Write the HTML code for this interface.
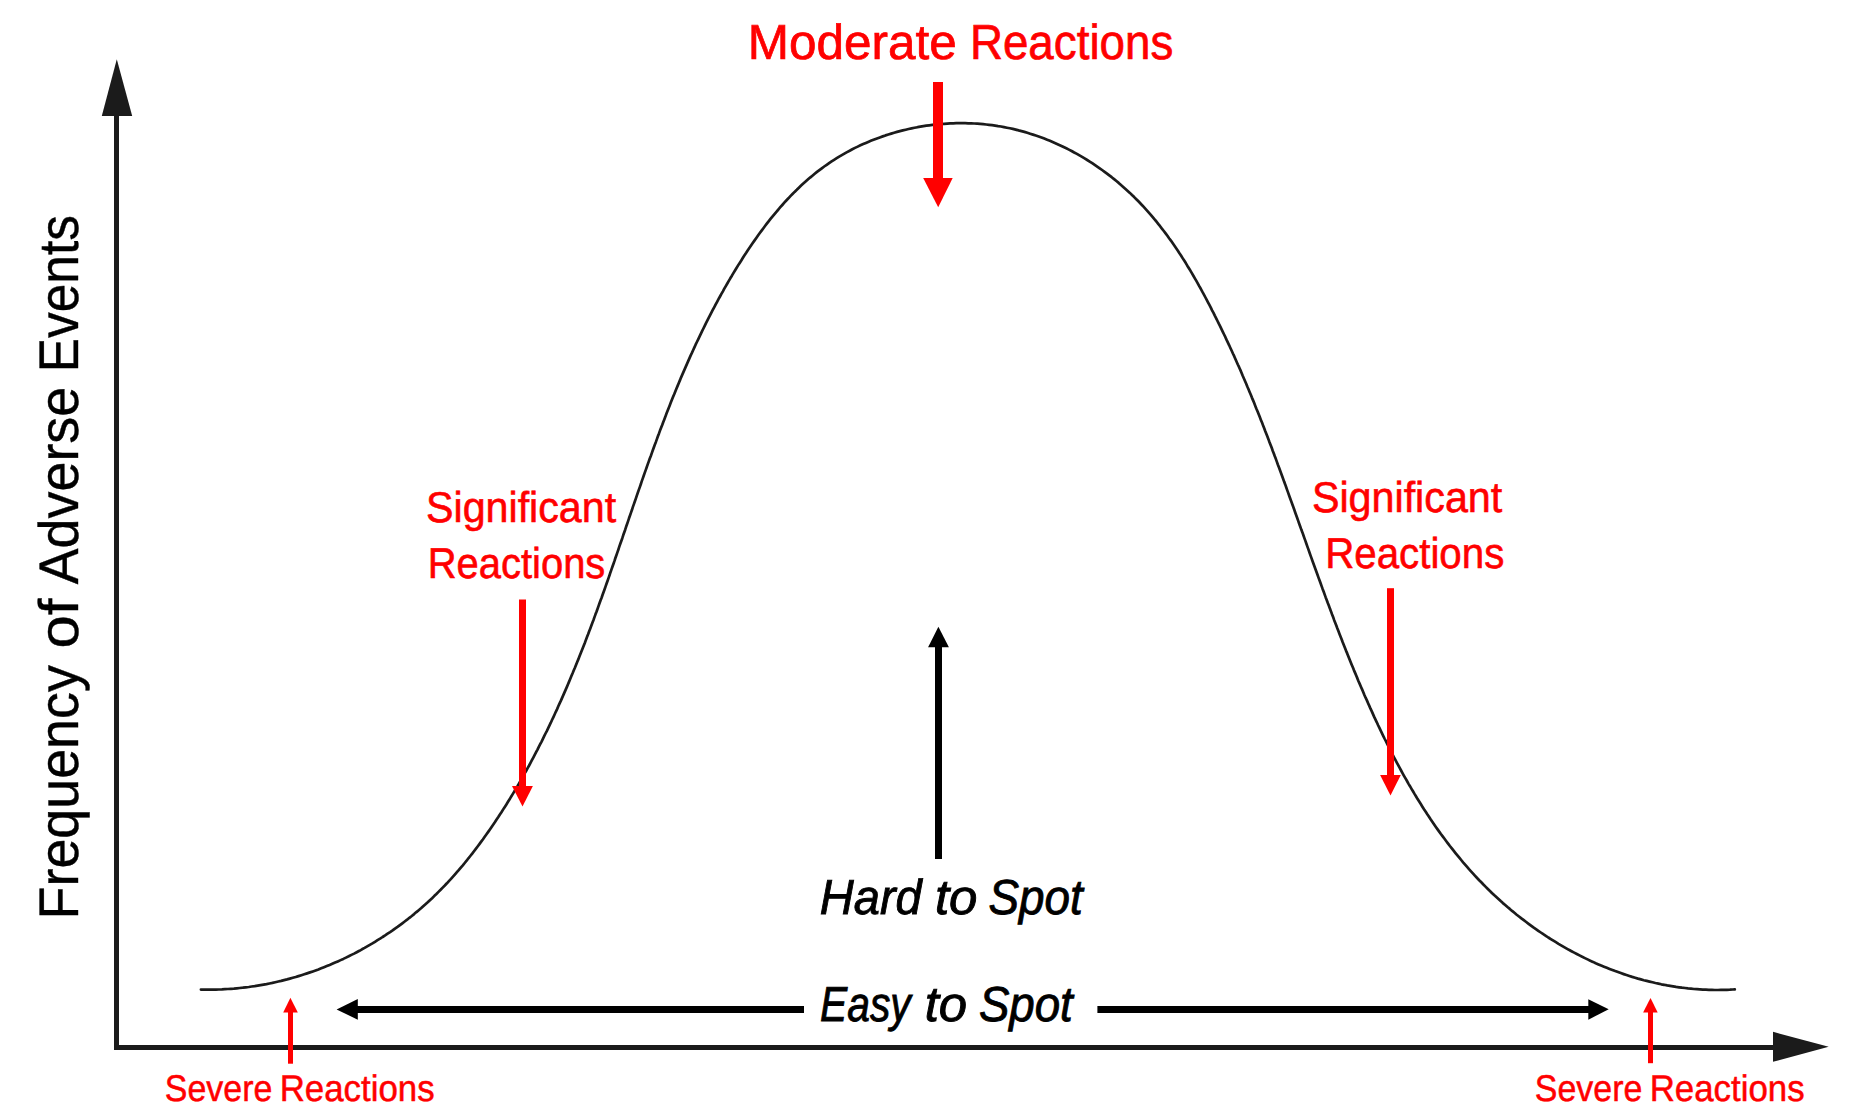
<!DOCTYPE html>
<html><head><meta charset="utf-8"><style>
html,body{margin:0;padding:0;background:#fff;}
body{width:1874px;height:1118px;overflow:hidden;}
svg{display:block;}
text{font-family:"Liberation Sans",sans-serif;text-rendering:geometricPrecision;}
</style></head><body>
<svg width="1874" height="1118" viewBox="0 0 1874 1118">
<rect width="1874" height="1118" fill="#fff"/>
<rect x="114" y="114" width="5" height="936" fill="#1b1b1b"/>
<polygon points="101.8,116 132.2,116 116.8,59.3" fill="#1b1b1b"/>
<rect x="114" y="1045" width="1662" height="5" fill="#1b1b1b"/>
<polygon points="1773,1031.8 1773,1061.8 1828.7,1046.8" fill="#1b1b1b"/>
<path d="M200.9,989.6 L203.9,989.6 L206.9,989.7 L209.9,989.7 L212.9,989.6 L215.9,989.6 L218.9,989.5 L221.9,989.4 L224.9,989.2 L227.9,989.0 L230.9,988.8 L233.9,988.6 L236.8,988.3 L239.8,988.0 L242.8,987.7 L245.8,987.3 L248.8,987.0 L251.7,986.5 L254.7,986.1 L257.7,985.6 L260.6,985.1 L263.6,984.6 L266.5,984.1 L269.5,983.5 L272.4,982.9 L275.3,982.2 L278.3,981.5 L281.2,980.9 L284.1,980.1 L287.0,979.4 L289.9,978.6 L292.8,977.8 L295.7,977.0 L298.5,976.1 L301.4,975.2 L304.3,974.3 L307.1,973.4 L310.0,972.4 L312.8,971.4 L315.6,970.4 L318.4,969.4 L321.2,968.3 L324.0,967.2 L326.8,966.1 L329.6,965.0 L332.3,963.8 L335.1,962.6 L337.8,961.4 L340.6,960.1 L343.3,958.9 L346.0,957.6 L348.7,956.3 L351.4,954.9 L354.1,953.6 L356.7,952.2 L359.4,950.8 L362.0,949.3 L364.6,947.9 L367.2,946.4 L369.8,944.9 L372.4,943.4 L375.0,941.8 L377.5,940.2 L380.1,938.7 L382.6,937.0 L385.1,935.4 L387.6,933.7 L390.1,932.1 L392.6,930.4 L395.0,928.6 L397.5,926.9 L399.9,925.1 L402.3,923.3 L404.7,921.5 L407.1,919.7 L409.4,917.8 L411.8,916.0 L414.1,914.1 L416.4,912.1 L418.7,910.2 L421.0,908.3 L423.2,906.3 L425.5,904.3 L427.7,902.3 L429.9,900.2 L432.1,898.2 L434.2,896.1 L436.4,894.0 L438.5,891.9 L440.6,889.8 L442.7,887.6 L444.8,885.5 L446.9,883.3 L448.9,881.1 L451.0,878.9 L453.0,876.7 L455.0,874.4 L456.9,872.2 L458.9,869.9 L460.8,867.6 L462.8,865.3 L464.7,863.0 L466.6,860.7 L468.4,858.3 L470.3,856.0 L472.2,853.6 L474.0,851.2 L475.8,848.9 L477.6,846.5 L479.4,844.1 L481.2,841.6 L483.0,839.2 L484.7,836.8 L486.5,834.3 L488.2,831.9 L489.9,829.4 L491.6,826.9 L493.3,824.5 L495.0,822.0 L496.6,819.5 L498.3,817.0 L499.9,814.5 L501.6,812.0 L503.2,809.4 L504.8,806.9 L506.4,804.4 L508.0,801.8 L509.6,799.3 L511.1,796.7 L512.7,794.1 L514.2,791.6 L515.7,789.0 L517.3,786.4 L518.8,783.8 L520.3,781.2 L521.8,778.6 L523.2,776.0 L524.7,773.4 L526.2,770.8 L527.6,768.1 L529.1,765.5 L530.5,762.9 L531.9,760.2 L533.3,757.6 L534.7,754.9 L536.1,752.2 L537.5,749.6 L538.8,746.9 L540.2,744.2 L541.6,741.6 L542.9,738.9 L544.2,736.2 L545.5,733.5 L546.9,730.8 L548.2,728.1 L549.5,725.4 L550.8,722.7 L552.0,720.0 L553.3,717.3 L554.6,714.5 L555.8,711.8 L557.1,709.1 L558.3,706.3 L559.5,703.6 L560.8,700.9 L562.0,698.1 L563.2,695.4 L564.4,692.6 L565.6,689.9 L566.8,687.1 L567.9,684.4 L569.1,681.6 L570.3,678.8 L571.4,676.1 L572.6,673.3 L573.7,670.5 L574.9,667.8 L576.0,665.0 L577.1,662.2 L578.3,659.4 L579.4,656.6 L580.5,653.8 L581.6,651.1 L582.7,648.3 L583.8,645.5 L584.9,642.7 L585.9,639.9 L587.0,637.1 L588.1,634.3 L589.1,631.5 L590.2,628.7 L591.3,625.8 L592.3,623.0 L593.4,620.2 L594.4,617.4 L595.4,614.6 L596.5,611.8 L597.5,609.0 L598.5,606.1 L599.5,603.3 L600.5,600.5 L601.6,597.7 L602.6,594.8 L603.6,592.0 L604.6,589.2 L605.6,586.4 L606.6,583.5 L607.6,580.7 L608.6,577.9 L609.6,575.0 L610.5,572.2 L611.5,569.4 L612.5,566.5 L613.5,563.7 L614.5,560.9 L615.4,558.0 L616.4,555.2 L617.4,552.4 L618.4,549.5 L619.3,546.7 L620.3,543.8 L621.3,541.0 L622.3,538.2 L623.2,535.3 L624.2,532.5 L625.2,529.7 L626.1,526.8 L627.1,524.0 L628.1,521.1 L629.0,518.3 L630.0,515.5 L631.0,512.6 L632.0,509.8 L632.9,506.9 L633.9,504.1 L634.9,501.3 L635.9,498.4 L636.8,495.6 L637.8,492.8 L638.8,489.9 L639.8,487.1 L640.8,484.3 L641.7,481.4 L642.7,478.6 L643.7,475.8 L644.7,472.9 L645.7,470.1 L646.7,467.3 L647.7,464.4 L648.7,461.6 L649.7,458.8 L650.8,456.0 L651.8,453.1 L652.8,450.3 L653.8,447.5 L654.8,444.7 L655.9,441.9 L656.9,439.1 L657.9,436.2 L659.0,433.4 L660.0,430.6 L661.1,427.8 L662.2,425.0 L663.2,422.2 L664.3,419.4 L665.4,416.6 L666.4,413.8 L667.5,411.0 L668.6,408.2 L669.7,405.4 L670.8,402.6 L671.9,399.8 L673.0,397.1 L674.2,394.3 L675.3,391.5 L676.4,388.7 L677.6,385.9 L678.7,383.2 L679.9,380.4 L681.0,377.6 L682.2,374.9 L683.4,372.1 L684.6,369.4 L685.8,366.6 L687.0,363.9 L688.2,361.1 L689.4,358.4 L690.6,355.6 L691.9,352.9 L693.1,350.2 L694.4,347.4 L695.6,344.7 L696.9,342.0 L698.2,339.3 L699.5,336.6 L700.8,333.9 L702.1,331.2 L703.4,328.5 L704.7,325.8 L706.0,323.1 L707.4,320.4 L708.8,317.7 L710.1,315.1 L711.5,312.4 L712.9,309.7 L714.3,307.1 L715.7,304.4 L717.1,301.8 L718.5,299.2 L720.0,296.5 L721.4,293.9 L722.9,291.3 L724.3,288.7 L725.8,286.1 L727.3,283.5 L728.8,280.9 L730.3,278.3 L731.9,275.7 L733.4,273.1 L735.0,270.5 L736.5,268.0 L738.1,265.4 L739.7,262.9 L741.3,260.4 L742.9,257.8 L744.5,255.3 L746.2,252.8 L747.8,250.3 L749.5,247.8 L751.2,245.3 L752.9,242.8 L754.6,240.4 L756.3,237.9 L758.0,235.5 L759.8,233.0 L761.6,230.6 L763.4,228.2 L765.2,225.8 L767.0,223.4 L768.8,221.1 L770.7,218.7 L772.6,216.4 L774.5,214.1 L776.4,211.8 L778.4,209.5 L780.3,207.2 L782.3,205.0 L784.3,202.7 L786.3,200.5 L788.4,198.3 L790.4,196.1 L792.5,194.0 L794.6,191.9 L796.8,189.8 L798.9,187.7 L801.1,185.6 L803.3,183.6 L805.6,181.6 L807.8,179.6 L810.1,177.6 L812.4,175.7 L814.7,173.8 L817.0,171.9 L819.4,170.1 L821.8,168.3 L824.2,166.5 L826.7,164.8 L829.1,163.1 L831.6,161.4 L834.1,159.8 L836.7,158.2 L839.2,156.6 L841.8,155.1 L844.4,153.6 L847.0,152.1 L849.7,150.7 L852.3,149.3 L855.0,147.9 L857.7,146.6 L860.4,145.3 L863.2,144.1 L865.9,142.9 L868.7,141.7 L871.4,140.6 L874.2,139.5 L877.0,138.4 L879.8,137.4 L882.7,136.4 L885.5,135.4 L888.4,134.5 L891.2,133.6 L894.1,132.7 L897.0,131.9 L899.9,131.1 L902.8,130.4 L905.7,129.7 L908.6,129.0 L911.6,128.4 L914.5,127.8 L917.5,127.2 L920.4,126.7 L923.4,126.2 L926.3,125.7 L929.3,125.3 L932.3,124.9 L935.3,124.6 L938.2,124.3 L941.2,124.0 L944.2,123.8 L947.2,123.6 L950.2,123.4 L953.2,123.3 L956.2,123.2 L959.2,123.2 L962.2,123.2 L965.2,123.2 L968.2,123.3 L971.2,123.4 L974.2,123.5 L977.2,123.7 L980.2,123.9 L983.2,124.2 L986.2,124.5 L989.1,124.8 L992.1,125.2 L995.1,125.6 L998.1,126.1 L1001.0,126.5 L1004.0,127.1 L1006.9,127.7 L1009.9,128.3 L1012.8,128.9 L1015.7,129.6 L1018.6,130.4 L1021.5,131.1 L1024.4,131.9 L1027.3,132.8 L1030.1,133.7 L1033.0,134.6 L1035.8,135.5 L1038.7,136.5 L1041.5,137.5 L1044.3,138.6 L1047.1,139.7 L1049.9,140.8 L1052.6,142.0 L1055.4,143.2 L1058.1,144.4 L1060.9,145.7 L1063.6,147.0 L1066.3,148.3 L1068.9,149.6 L1071.6,151.0 L1074.2,152.5 L1076.9,153.9 L1079.5,155.4 L1082.1,156.9 L1084.6,158.4 L1087.2,160.0 L1089.7,161.6 L1092.2,163.2 L1094.7,164.9 L1097.2,166.6 L1099.7,168.3 L1102.1,170.0 L1104.6,171.8 L1107.0,173.6 L1109.3,175.4 L1111.7,177.2 L1114.1,179.1 L1116.4,181.0 L1118.7,182.9 L1121.0,184.9 L1123.2,186.9 L1125.5,188.9 L1127.7,190.9 L1129.9,192.9 L1132.0,195.0 L1134.2,197.1 L1136.3,199.2 L1138.4,201.3 L1140.5,203.5 L1142.6,205.7 L1144.6,207.9 L1146.6,210.1 L1148.6,212.4 L1150.6,214.6 L1152.5,216.9 L1154.4,219.2 L1156.4,221.5 L1158.2,223.9 L1160.1,226.2 L1161.9,228.6 L1163.8,231.0 L1165.6,233.4 L1167.4,235.8 L1169.1,238.2 L1170.9,240.6 L1172.6,243.1 L1174.3,245.6 L1176.0,248.0 L1177.7,250.5 L1179.3,253.0 L1181.0,255.5 L1182.6,258.1 L1184.2,260.6 L1185.8,263.1 L1187.3,265.7 L1188.9,268.3 L1190.5,270.8 L1192.0,273.4 L1193.5,276.0 L1195.0,278.6 L1196.5,281.2 L1198.0,283.8 L1199.4,286.4 L1200.9,289.0 L1202.3,291.7 L1203.8,294.3 L1205.2,297.0 L1206.6,299.6 L1208.0,302.3 L1209.4,304.9 L1210.8,307.6 L1212.1,310.3 L1213.5,312.9 L1214.8,315.6 L1216.2,318.3 L1217.5,321.0 L1218.8,323.7 L1220.2,326.4 L1221.5,329.1 L1222.8,331.8 L1224.1,334.5 L1225.4,337.2 L1226.6,339.9 L1227.9,342.6 L1229.2,345.3 L1230.4,348.0 L1231.7,350.8 L1232.9,353.5 L1234.2,356.2 L1235.4,359.0 L1236.6,361.7 L1237.8,364.5 L1239.1,367.2 L1240.3,369.9 L1241.5,372.7 L1242.6,375.5 L1243.8,378.2 L1245.0,381.0 L1246.2,383.7 L1247.3,386.5 L1248.5,389.3 L1249.6,392.0 L1250.8,394.8 L1251.9,397.6 L1253.1,400.4 L1254.2,403.1 L1255.3,405.9 L1256.4,408.7 L1257.6,411.5 L1258.7,414.3 L1259.8,417.1 L1260.9,419.9 L1262.0,422.6 L1263.1,425.4 L1264.2,428.2 L1265.2,431.0 L1266.3,433.8 L1267.4,436.6 L1268.5,439.4 L1269.5,442.2 L1270.6,445.0 L1271.7,447.8 L1272.7,450.7 L1273.8,453.5 L1274.8,456.3 L1275.9,459.1 L1276.9,461.9 L1277.9,464.7 L1279.0,467.5 L1280.0,470.3 L1281.1,473.2 L1282.1,476.0 L1283.1,478.8 L1284.1,481.6 L1285.2,484.4 L1286.2,487.3 L1287.2,490.1 L1288.2,492.9 L1289.2,495.7 L1290.2,498.5 L1291.3,501.4 L1292.3,504.2 L1293.3,507.0 L1294.3,509.8 L1295.3,512.7 L1296.3,515.5 L1297.3,518.3 L1298.3,521.1 L1299.3,524.0 L1300.3,526.8 L1301.3,529.6 L1302.4,532.4 L1303.4,535.3 L1304.4,538.1 L1305.4,540.9 L1306.4,543.8 L1307.4,546.6 L1308.4,549.4 L1309.4,552.2 L1310.4,555.1 L1311.4,557.9 L1312.4,560.7 L1313.4,563.5 L1314.5,566.4 L1315.5,569.2 L1316.5,572.0 L1317.5,574.8 L1318.5,577.6 L1319.6,580.5 L1320.6,583.3 L1321.6,586.1 L1322.6,588.9 L1323.7,591.7 L1324.7,594.6 L1325.7,597.4 L1326.8,600.2 L1327.8,603.0 L1328.9,605.8 L1329.9,608.6 L1331.0,611.4 L1332.0,614.2 L1333.1,617.0 L1334.1,619.9 L1335.2,622.7 L1336.3,625.5 L1337.3,628.3 L1338.4,631.1 L1339.5,633.9 L1340.6,636.7 L1341.7,639.5 L1342.7,642.3 L1343.8,645.0 L1344.9,647.8 L1346.0,650.6 L1347.2,653.4 L1348.3,656.2 L1349.4,659.0 L1350.5,661.8 L1351.6,664.5 L1352.8,667.3 L1353.9,670.1 L1355.1,672.9 L1356.2,675.6 L1357.4,678.4 L1358.5,681.2 L1359.7,683.9 L1360.9,686.7 L1362.1,689.4 L1363.3,692.2 L1364.4,695.0 L1365.6,697.7 L1366.9,700.4 L1368.1,703.2 L1369.3,705.9 L1370.5,708.7 L1371.8,711.4 L1373.0,714.1 L1374.2,716.9 L1375.5,719.6 L1376.8,722.3 L1378.0,725.0 L1379.3,727.7 L1380.6,730.4 L1381.9,733.1 L1383.2,735.8 L1384.5,738.5 L1385.9,741.2 L1387.2,743.9 L1388.6,746.6 L1389.9,749.3 L1391.3,751.9 L1392.6,754.6 L1394.0,757.3 L1395.4,759.9 L1396.8,762.6 L1398.2,765.2 L1399.7,767.9 L1401.1,770.5 L1402.5,773.1 L1404.0,775.8 L1405.5,778.4 L1407.0,781.0 L1408.4,783.6 L1410.0,786.2 L1411.5,788.8 L1413.0,791.3 L1414.5,793.9 L1416.1,796.5 L1417.6,799.1 L1419.2,801.6 L1420.8,804.1 L1422.4,806.7 L1424.0,809.2 L1425.7,811.7 L1427.3,814.2 L1429.0,816.7 L1430.6,819.2 L1432.3,821.7 L1434.0,824.2 L1435.7,826.7 L1437.4,829.1 L1439.2,831.6 L1440.9,834.0 L1442.7,836.4 L1444.5,838.8 L1446.3,841.2 L1448.1,843.6 L1449.9,846.0 L1451.8,848.4 L1453.6,850.7 L1455.5,853.1 L1457.4,855.4 L1459.3,857.7 L1461.2,860.0 L1463.1,862.3 L1465.1,864.6 L1467.1,866.9 L1469.0,869.1 L1471.0,871.3 L1473.1,873.6 L1475.1,875.8 L1477.1,878.0 L1479.2,880.2 L1481.3,882.3 L1483.4,884.5 L1485.5,886.6 L1487.6,888.7 L1489.7,890.8 L1491.9,892.9 L1494.1,895.0 L1496.3,897.0 L1498.5,899.0 L1500.7,901.1 L1502.9,903.1 L1505.2,905.0 L1507.5,907.0 L1509.8,908.9 L1512.1,910.9 L1514.4,912.8 L1516.7,914.7 L1519.0,916.5 L1521.4,918.4 L1523.8,920.2 L1526.2,922.0 L1528.6,923.8 L1531.0,925.6 L1533.4,927.4 L1535.9,929.1 L1538.3,930.8 L1540.8,932.5 L1543.3,934.2 L1545.8,935.8 L1548.3,937.5 L1550.8,939.1 L1553.4,940.7 L1555.9,942.2 L1558.5,943.8 L1561.1,945.3 L1563.7,946.8 L1566.3,948.3 L1568.9,949.8 L1571.5,951.2 L1574.2,952.6 L1576.8,954.0 L1579.5,955.4 L1582.2,956.8 L1584.9,958.1 L1587.6,959.4 L1590.3,960.7 L1593.0,961.9 L1595.7,963.2 L1598.5,964.4 L1601.2,965.6 L1604.0,966.7 L1606.8,967.8 L1609.6,968.9 L1612.4,970.0 L1615.2,971.1 L1618.0,972.1 L1620.8,973.1 L1623.7,974.1 L1626.5,975.0 L1629.4,976.0 L1632.2,976.9 L1635.1,977.7 L1638.0,978.6 L1640.9,979.4 L1643.8,980.2 L1646.7,980.9 L1649.6,981.6 L1652.5,982.3 L1655.4,983.0 L1658.4,983.6 L1661.3,984.3 L1664.2,984.8 L1667.2,985.4 L1670.1,985.9 L1673.1,986.4 L1676.1,986.9 L1679.0,987.3 L1682.0,987.7 L1685.0,988.0 L1688.0,988.4 L1691.0,988.7 L1693.9,989.0 L1696.9,989.2 L1699.9,989.4 L1702.9,989.6 L1705.9,989.7 L1708.9,989.8 L1711.9,989.9 L1714.9,990.0 L1717.9,990.0 L1720.9,989.9 L1723.9,989.9 L1726.9,989.8 L1729.9,989.7 L1732.9,989.5 L1734.8,989.4" fill="none" stroke="#1b1b1b" stroke-width="2.7" stroke-linejoin="round" stroke-linecap="round"/>
<rect x="355" y="1006" width="449" height="7" fill="#000"/>
<polygon points="336.6,1009.4 357.8,999 357.8,1019.7" fill="#000"/>
<rect x="1097.4" y="1006" width="493" height="7" fill="#000"/>
<polygon points="1608.7,1009.3 1588.3,999.2 1588.3,1019.7" fill="#000"/>
<rect x="935" y="645" width="7" height="214" fill="#000"/>
<polygon points="938.4,626.7 928.1,647.2 948.9,647.2" fill="#000"/>
<rect x="933" y="82" width="10" height="97" fill="#f00"/>
<polygon points="923.2,178 952.7,178 938.2,207.3" fill="#f00"/>
<rect x="519" y="599.5" width="7" height="188" fill="#f00"/>
<polygon points="512,786.1 532.9,786.1 522.5,806.5" fill="#f00"/>
<rect x="1387" y="588.2" width="7" height="188" fill="#f00"/>
<polygon points="1380.1,775.1 1400.8,775.1 1390.5,795.6" fill="#f00"/>
<rect x="288" y="1010" width="5" height="53.7" fill="#f00"/>
<polygon points="290.4,997.8 283.2,1012.4 297.8,1012.4" fill="#f00"/>
<rect x="1648" y="1010" width="5" height="53.2" fill="#f00"/>
<polygon points="1650.5,997.9 1643.1,1012.6 1657.7,1012.6" fill="#f00"/>
<text x="747.70" y="59.1" font-size="49.1" fill="#f00" stroke="#f00" stroke-width="0.7" textLength="209.00" lengthAdjust="spacingAndGlyphs">Moderate</text>
<text x="969.90" y="59.1" font-size="49.1" fill="#f00" stroke="#f00" stroke-width="0.7" textLength="203.40" lengthAdjust="spacingAndGlyphs">Reactions</text>
<text x="426.10" y="522" font-size="43" fill="#f00" stroke="#f00" stroke-width="0.6" textLength="190.00" lengthAdjust="spacingAndGlyphs">Significant</text>
<text x="427.80" y="578.1" font-size="43" fill="#f00" stroke="#f00" stroke-width="0.6" textLength="177.50" lengthAdjust="spacingAndGlyphs">Reactions</text>
<text x="1311.90" y="511.8" font-size="43" fill="#f00" stroke="#f00" stroke-width="0.6" textLength="190.40" lengthAdjust="spacingAndGlyphs">Significant</text>
<text x="1325.20" y="567.9" font-size="43" fill="#f00" stroke="#f00" stroke-width="0.6" textLength="179.10" lengthAdjust="spacingAndGlyphs">Reactions</text>
<text x="819.80" y="913.9" font-size="49.1" font-style="italic" fill="#000" stroke="#000" stroke-width="0.9" textLength="101.90" lengthAdjust="spacingAndGlyphs">Hard</text>
<text x="934.90" y="913.9" font-size="49.1" font-style="italic" fill="#000" stroke="#000" stroke-width="0.9" textLength="42.50" lengthAdjust="spacingAndGlyphs">to</text>
<text x="988.50" y="913.9" font-size="49.1" font-style="italic" fill="#000" stroke="#000" stroke-width="0.9" textLength="94.20" lengthAdjust="spacingAndGlyphs">Spot</text>
<text x="820.10" y="1020.9" font-size="49.1" font-style="italic" fill="#000" stroke="#000" stroke-width="0.9" textLength="90.60" lengthAdjust="spacingAndGlyphs">Easy</text>
<text x="924.70" y="1020.9" font-size="49.1" font-style="italic" fill="#000" stroke="#000" stroke-width="0.9" textLength="42.40" lengthAdjust="spacingAndGlyphs">to</text>
<text x="978.90" y="1020.9" font-size="49.1" font-style="italic" fill="#000" stroke="#000" stroke-width="0.9" textLength="93.90" lengthAdjust="spacingAndGlyphs">Spot</text>
<text x="164.80" y="1101" font-size="37.1" fill="#f00" stroke="#f00" stroke-width="0.5" textLength="107.50" lengthAdjust="spacingAndGlyphs">Severe</text>
<text x="279.70" y="1101" font-size="37.1" fill="#f00" stroke="#f00" stroke-width="0.5" textLength="154.90" lengthAdjust="spacingAndGlyphs">Reactions</text>
<text x="1534.80" y="1101" font-size="37.1" fill="#f00" stroke="#f00" stroke-width="0.5" textLength="107.50" lengthAdjust="spacingAndGlyphs">Severe</text>
<text x="1649.70" y="1101" font-size="37.1" fill="#f00" stroke="#f00" stroke-width="0.5" textLength="154.90" lengthAdjust="spacingAndGlyphs">Reactions</text>
<text transform="translate(78.3,0) rotate(-90)" x="-919.40" y="0" font-size="55.8" fill="#000" stroke="#000" stroke-width="0.4" textLength="254.20" lengthAdjust="spacingAndGlyphs">Frequency</text>
<text transform="translate(78.3,0) rotate(-90)" x="-648.60" y="0" font-size="55.8" fill="#000" stroke="#000" stroke-width="0.4" textLength="50.00" lengthAdjust="spacingAndGlyphs">of</text>
<text transform="translate(78.3,0) rotate(-90)" x="-584.30" y="0" font-size="55.8" fill="#000" stroke="#000" stroke-width="0.4" textLength="197.50" lengthAdjust="spacingAndGlyphs">Adverse</text>
<text transform="translate(78.3,0) rotate(-90)" x="-372.30" y="0" font-size="55.8" fill="#000" stroke="#000" stroke-width="0.4" textLength="157.30" lengthAdjust="spacingAndGlyphs">Events</text>
</svg>
</body></html>
